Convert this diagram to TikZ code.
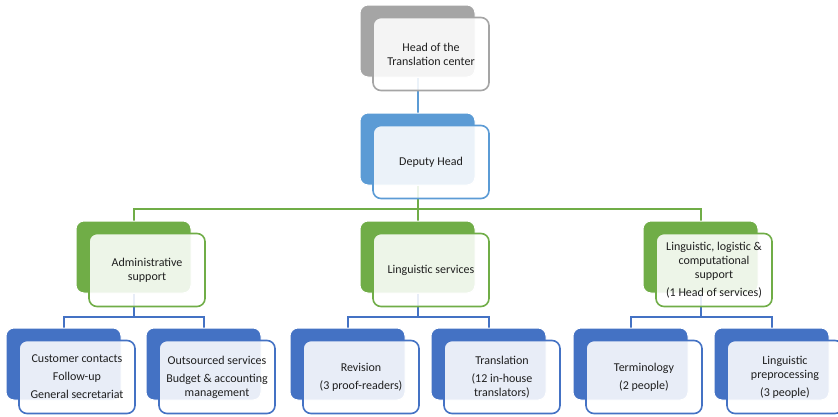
\documentclass[tikz,border=0pt]{standalone}
\usepackage{fontspec}
\setmainfont{Carlito}
\usetikzlibrary{backgrounds}
\definecolor{cgray}{HTML}{A5A5A5}
\definecolor{cltblue}{HTML}{5B9BD5}
\definecolor{cgreen}{HTML}{70AD47}
\definecolor{cblue}{HTML}{4472C4}
\definecolor{ctext}{HTML}{1F1F1F}
\tikzset{
 backbox/.style={draw=white, line width=1pt, fill=#1, rounded corners=8pt, minimum width=115pt, minimum height=72pt, inner sep=0pt},
 frontbox/.style={draw=#1, line width=1.6pt, fill=white, fill opacity=0.88, text opacity=1, rounded corners=8pt, minimum width=116pt, minimum height=73pt, align=center, text=ctext, font=\fontsize{12}{14}\selectfont, inner sep=2pt},
 conn/.style={draw=#1, line width=2pt},
}
\begin{document}
\begin{tikzpicture}[x=1pt,y=-1pt]
\useasboundingbox (0,0) rectangle (838,416);
% level 0
\node[backbox=cgray] (head) at (417.5,41) {};
\node[frontbox=cgray] (headf) at (431,54) {Head of the\\Translation center};
% level 1
\node[backbox=cltblue] (dep) at (417.5,149) {};
\node[frontbox=cltblue] (depf) at (431,162) {Deputy Head};
% level 2
\node[backbox=cgreen] (adm) at (133.5,257) {};
\node[frontbox=cgreen] (admf) at (147,270) {Administrative\\support};
\node[backbox=cgreen] (lng) at (417.5,257) {};
\node[frontbox=cgreen] (lngf) at (431,270) {Linguistic services};
\node[backbox=cgreen] (lls) at (700.5,257) {};
\node[frontbox=cgreen] (llsf) at (714,270) {Linguistic, logistic \&\\computational\\support\\[4pt](1 Head of services)};
% level 3
\node[backbox=cblue] (c1) at (63.5,364) {};
\node[frontbox=cblue] (c1f) at (77,377) {Customer contacts\\[4pt]Follow-up\\[4pt]General secretariat};
\node[backbox=cblue] (c2) at (203.5,364) {};
\node[frontbox=cblue] (c2f) at (217,377) {Outsourced services\\[4pt]Budget \& accounting\\management};
\node[backbox=cblue] (c3) at (347.5,364) {};
\node[frontbox=cblue] (c3f) at (361,377) {Revision\\[4pt](3 proof-readers)};
\node[backbox=cblue] (c4) at (488.5,364) {};
\node[frontbox=cblue] (c4f) at (502,377) {Translation\\[4pt](12 in-house\\translators)};
\node[backbox=cblue] (c5) at (630.5,364) {};
\node[frontbox=cblue] (c5f) at (644,377) {Terminology\\[4pt](2 people)};
\node[backbox=cblue] (c6) at (771.5,364) {};
\node[frontbox=cblue] (c6f) at (785,377) {Linguistic\\preprocessing\\[4pt](3 people)};
\coordinate (bus1) at (0,209);
\coordinate (bus2) at (0,317);
\begin{scope}[on background layer]
\fill[white] (0,0) rectangle (838,416);
\draw[conn=cltblue] (head.south) -- (dep.north);
\draw[conn=cgreen] (dep.south) -- (lng.north);
\draw[conn=cgreen] (dep.south |- bus1) -| (adm.north);
\draw[conn=cgreen] (dep.south |- bus1) -| (lls.north);
\draw[conn=cblue] (adm.south) -- (adm.south |- bus2) -| (c1.north);
\draw[conn=cblue] (adm.south |- bus2) -| (c2.north);
\draw[conn=cblue] (lng.south) -- (lng.south |- bus2) -| (c3.north);
\draw[conn=cblue] (lng.south |- bus2) -| (c4.north);
\draw[conn=cblue] (lls.south) -- (lls.south |- bus2) -| (c5.north);
\draw[conn=cblue] (lls.south |- bus2) -| (c6.north);
\end{scope}
\end{tikzpicture}
\end{document}
